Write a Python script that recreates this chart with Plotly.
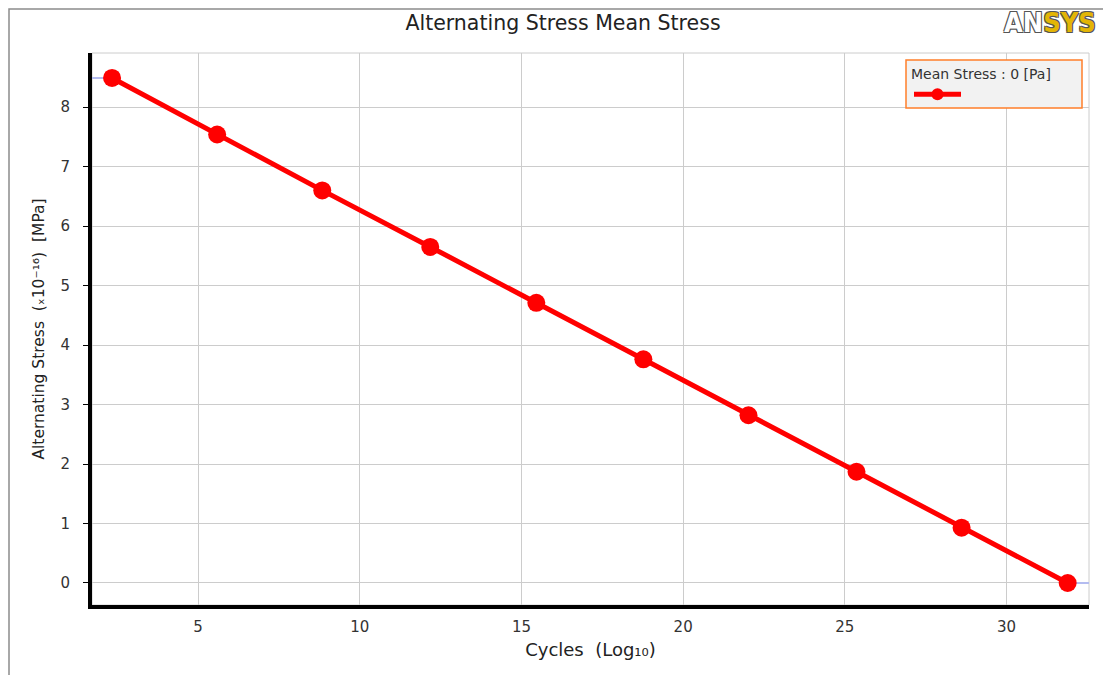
import plotly.graph_objects as go

# S-N curve: log10 cycles vs alternating stress at zero mean stress
log_cycles = [2.34, 5.59, 8.84, 12.18, 15.46, 18.77, 22.02, 25.36, 28.61, 31.89]
alt_stress = [8.49, 7.54, 6.60, 5.65, 4.71, 3.76, 2.82, 1.87, 0.93, 0.0]

x_ticks = [5, 10, 15, 20, 25, 30]
y_ticks = [0, 1, 2, 3, 4, 5, 6, 7, 8]
x_range = [1.72, 32.55]
y_range = [-0.37, 8.91]

W, H = 1103, 675
ML, MR, MT, MB = 92, 14, 53, 70
pw = W - ML - MR
ph = H - MT - MB


def px_x(p):
    """pixel column -> paper x"""
    return (p - ML) / pw


def px_y(p):
    """pixel row -> paper y"""
    return (H - MB - p) / ph


fig = go.Figure()

# extrapolated end segments beyond the first and last points
fig.add_trace(go.Scatter(
    x=[x_range[0], log_cycles[0]], y=[alt_stress[0], alt_stress[0]],
    mode="lines", line=dict(color="#b4bcf0", width=2),
    showlegend=False, hoverinfo="skip"))
fig.add_trace(go.Scatter(
    x=[log_cycles[-1], x_range[1]], y=[alt_stress[-1], alt_stress[-1]],
    mode="lines", line=dict(color="#b4bcf0", width=2),
    showlegend=False, hoverinfo="skip"))

fig.add_trace(go.Scatter(
    x=log_cycles, y=alt_stress, mode="lines+markers", name=" ",
    line=dict(color="#ff0000", width=5),
    marker=dict(color="#ff0000", size=18, symbol="circle"),
    cliponaxis=False))

fig.update_layout(
    width=W, height=H,
    margin=dict(l=ML, r=MR, t=MT, b=MB),
    paper_bgcolor="white", plot_bgcolor="white",
    font=dict(family="DejaVu Sans", size=12, color="#333333"),
    title=dict(text="Alternating Stress Mean Stress", x=563 / W,
               xanchor="center", y=1 - 23 / H, yanchor="middle",
               font=dict(family="DejaVu Sans", size=20.5, color="#222222")),
    legend=dict(
        x=px_x(909), xanchor="left",
        y=px_y(61), yanchor="top",
        bgcolor="rgba(0,0,0,0)", borderwidth=0,
        title=dict(text="Mean Stress : 0 [Pa]", side="top",
                   font=dict(family="DejaVu Sans", size=14, color="#333333")),
        font=dict(size=13), itemsizing="constant", itemwidth=47, tracegroupgap=0,
    ),
    xaxis=dict(
        range=x_range, tickvals=x_ticks, ticks="", showgrid=True,
        gridcolor="#cccccc", gridwidth=1, zeroline=False,
        showline=True, linecolor="black", linewidth=4, ticklabelstandoff=5,
        tickfont=dict(family="DejaVu Sans", size=15, color="#333333"),
        title=dict(text="Cycles  (Log₁₀)", standoff=9,
                   font=dict(family="DejaVu Sans", size=18, color="#222222")),
    ),
    yaxis=dict(
        range=y_range, tickvals=y_ticks, ticks="outside", ticklen=5, tickcolor="black",
        tickwidth=1, showgrid=True, gridcolor="#cccccc", gridwidth=1, zeroline=False,
        showline=True, linecolor="black", linewidth=4, ticklabelstandoff=10,
        tickfont=dict(family="DejaVu Sans", size=15, color="#333333"),
        title=dict(text="Alternating Stress  (ₓ10⁻¹⁶)  [MPa]", standoff=13,
                   font=dict(family="DejaVu Sans", size=15.5, color="#222222")),
    ),
    shapes=[
        # thin frame around the plot area
        dict(type="rect", xref="paper", yref="paper", x0=0, x1=1, y0=0, y1=1,
             line=dict(color="#cccccc", width=1), layer="below"),
        # outer panel border
        dict(type="rect", xref="paper", yref="paper",
             x0=px_x(9), x1=1.2, y0=-0.3, y1=px_y(9),
             line=dict(color="#8c8c8c", width=1.5), layer="below"),
        # legend box
        dict(type="rect", xref="paper", yref="paper",
             x0=px_x(906), x1=px_x(1082), y0=px_y(108), y1=px_y(60),
             fillcolor="#f2f2f2", line=dict(color="#ff7f2a", width=1.5), layer="above"),
    ],
    annotations=[
        dict(text="<b><span style='color:#ffffff'>AN</span><span style='color:#e3b505'>SYS</span></b>",
             xref="paper", yref="paper", x=px_x(1002), xanchor="left",
             y=px_y(22), yanchor="middle", showarrow=False,
             font=dict(family="DejaVu Sans Condensed, DejaVu Sans", size=27),
             ),
    ],
)

# give the logo letters a dark outline
fig.layout.annotations[0].font.shadow = "1px 1px 0 #555, -1px -1px 0 #555, 1px -1px 0 #555, -1px 1px 0 #555"

fig.write_html("out.html")
